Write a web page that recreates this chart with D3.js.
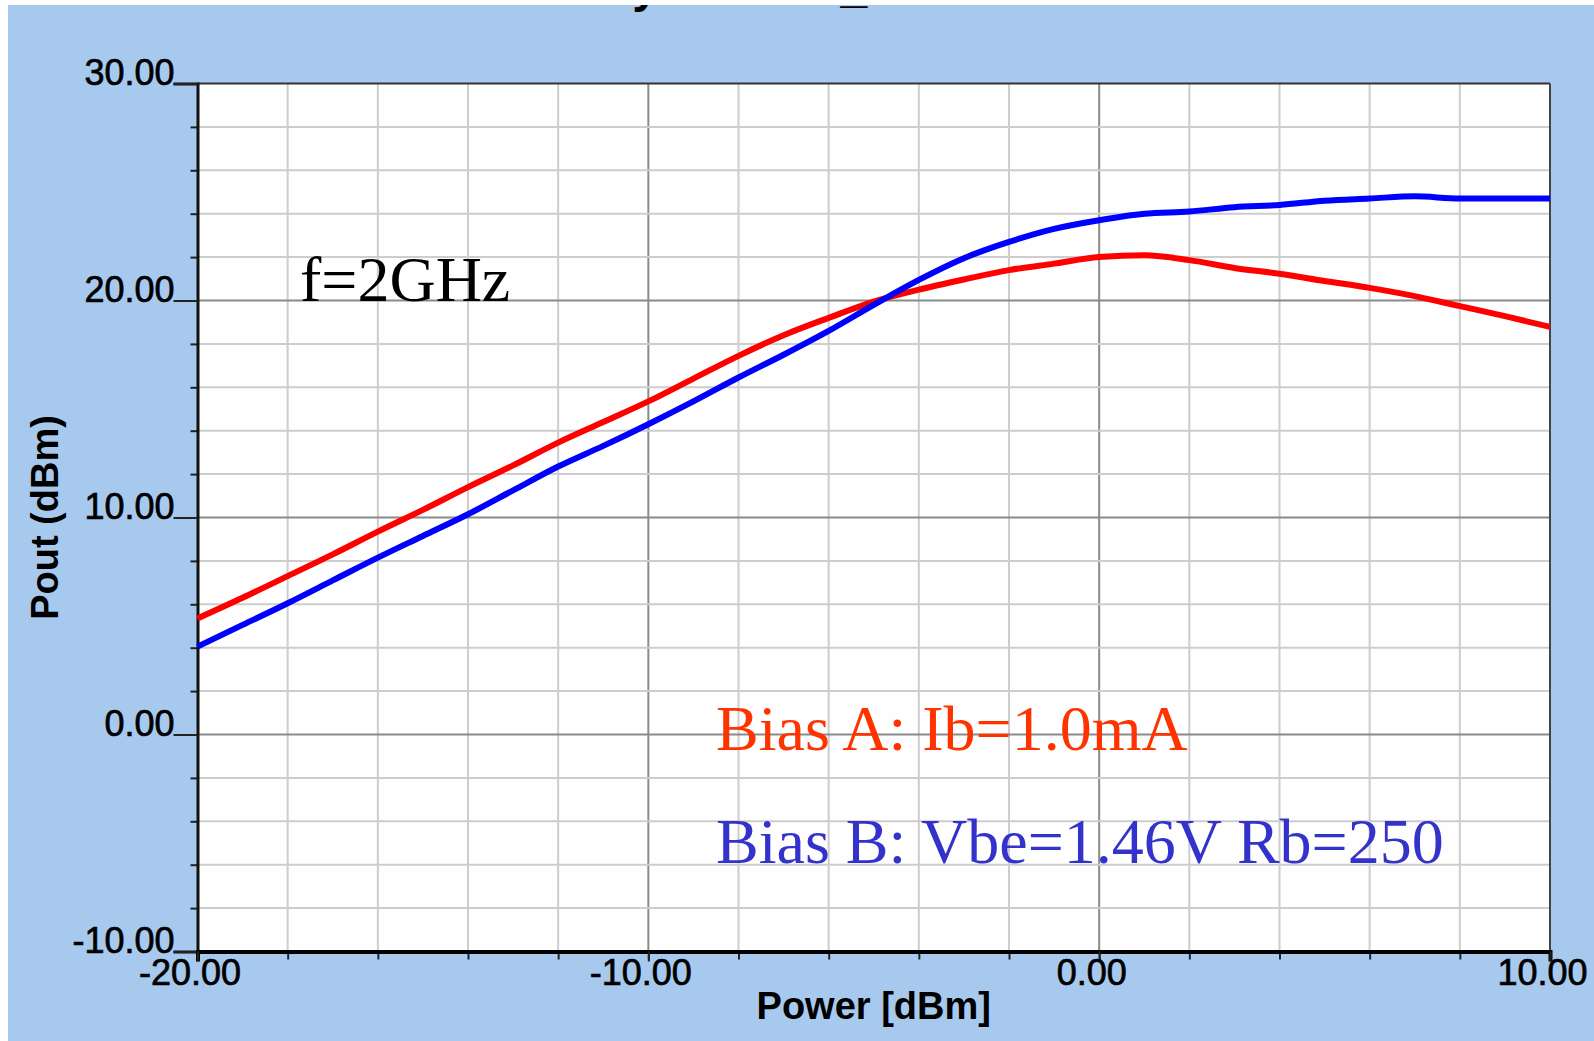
<!DOCTYPE html>
<html>
<head>
<meta charset="utf-8">
<script src="https://cdn.jsdelivr.net/npm/d3@7"></script>
<style>
  html, body { margin: 0; padding: 0; background: #ffffff; }
  svg { display: block; }
</style>
</head>
<body>
<svg id="chart" width="1594" height="1041"></svg>
<script>
// ---- data ----
const powerIn = [-20,-19,-18,-17,-16,-15,-14,-13,-12,-11,-10,-9,-8,-7,-6,-5,-4,-3,-2,-1,0,1,2,3,4,5,6,7,8,9,10];
const biasA = [5.35,6.3,7.3,8.3,9.35,10.35,11.4,12.4,13.45,14.4,15.35,16.4,17.45,18.4,19.2,19.95,20.5,20.97,21.4,21.7,22.0,22.08,21.86,21.5,21.23,20.9,20.58,20.2,19.74,19.28,18.78];
const biasB = [4.05,5.05,6.05,7.1,8.15,9.15,10.15,11.25,12.35,13.3,14.3,15.35,16.45,17.5,18.6,19.8,20.95,21.95,22.7,23.3,23.7,24.0,24.1,24.3,24.4,24.6,24.7,24.8,24.7,24.7,24.7];
const xTickLabels = [-20, -10, 0, 10];
const yTickLabels = [-10, 0, 10, 20, 30];
const xGrid = [-18,-16,-14,-12,-10,-8,-6,-4,-2,0,2,4,6,8];
const yGrid = [-8,-6,-4,-2,0,2,4,6,8,10,12,14,16,18,20,22,24,26,28];
const xMajor = [-10, 0];
const yMajor = [0, 10, 20];
const seriesNames = ["Bias A: Ib=1.0mA", "Bias B: Vbe=1.46V Rb=250"];
const annotation = "f=2GHz";
const xTitle = "Power [dBm]";
const yTitle = "Pout (dBm)";
const chartTitle = "Linearity vs Bias_Mode";

// ---- layout ----
const W = 1594, H = 1041;
const L = 197.5, R = 1550, T = 83.5, B = 951.5;
const svg = d3.select("#chart");

const x = d3.scaleLinear().domain([-20, 10]).range([L, R]);
const y = d3.scaleLinear().domain([-10, 30]).range([B, T]);
const fmt = d => d3.format(".2f")(d).replace("\u2212", "-");

// background
svg.append("rect").attr("x", 0).attr("y", 0).attr("width", W).attr("height", H).attr("fill", "#A7C9EE");

// partially visible title (cut off at the top in the original)
svg.append("text").attr("x", 459).attr("y", 2)
  .attr("font-family", "'Liberation Sans', Arial, sans-serif").attr("font-weight", "bold")
  .attr("font-size", 48).attr("fill", "#000").text(chartTitle);

// white page margins
svg.append("rect").attr("x", 0).attr("y", 0).attr("width", W).attr("height", 5).attr("fill", "#fff");
svg.append("rect").attr("x", 0).attr("y", 0).attr("width", 8).attr("height", H).attr("fill", "#fff");

// plot area
svg.append("rect").attr("x", L).attr("y", T).attr("width", R - L).attr("height", B - T).attr("fill", "#FEFEFE");

// grid
const grid = svg.append("g");
grid.selectAll("line.vx").data(xGrid).join("line")
  .attr("x1", d => x(d)).attr("x2", d => x(d)).attr("y1", T).attr("y2", B)
  .attr("stroke", d => xMajor.includes(d) ? "#8A8A8A" : "#CDCDCD").attr("stroke-width", 2);
grid.selectAll("line.hy").data(yGrid).join("line")
  .attr("y1", d => y(d)).attr("y2", d => y(d)).attr("x1", L).attr("x2", R)
  .attr("stroke", d => yMajor.includes(d) ? "#8A8A8A" : "#CDCDCD").attr("stroke-width", 2);

// border lines (top and right)
svg.append("line").attr("x1", L).attr("x2", R).attr("y1", T).attr("y2", T).attr("stroke", "#333").attr("stroke-width", 2);
svg.append("line").attr("x1", R).attr("x2", R).attr("y1", T).attr("y2", B).attr("stroke", "#444").attr("stroke-width", 2);

const fontSans = "'Liberation Sans', Arial, sans-serif";

// y axis: minor ticks
const yMinor = svg.append("g").attr("transform", `translate(${L},0)`)
  .call(d3.axisLeft(y).tickValues(yGrid.concat([-10,30])).tickSize(7).tickFormat(""));
yMinor.select(".domain").remove();
yMinor.selectAll(".tick line").attr("stroke", "#222").attr("stroke-width", 2);

// y axis: labelled ticks
const yAx = svg.append("g").attr("transform", `translate(${L},0)`)
  .call(d3.axisLeft(y).tickValues(yTickLabels).tickSize(24).tickPadding(0).tickFormat(fmt));
yAx.select(".domain").attr("stroke", "#111").attr("stroke-width", 3);
yAx.selectAll(".tick line").attr("stroke", "#222").attr("stroke-width", 2);
yAx.selectAll(".tick text").attr("font-family", fontSans).attr("font-size", 36)
  .attr("fill", "#000").attr("stroke", "#000").attr("stroke-width", 0.7)
  .attr("x", -23).attr("dy", "0.04em");

// x axis: minor ticks
const xMinorAx = svg.append("g").attr("transform", `translate(0,${B})`)
  .call(d3.axisBottom(x).tickValues(xGrid).tickSize(8).tickFormat(""));
xMinorAx.select(".domain").remove();
xMinorAx.selectAll(".tick line").attr("stroke", "#222").attr("stroke-width", 2);

// x axis: labelled ticks
const xAx = svg.append("g").attr("transform", `translate(0,${B})`)
  .call(d3.axisBottom(x).tickValues(xTickLabels).tickSize(10).tickFormat(fmt));
xAx.select(".domain").attr("stroke", "#000").attr("stroke-width", 4);
xAx.selectAll(".tick line").attr("stroke", "#222").attr("stroke-width", 2);
xAx.selectAll(".tick text").attr("font-family", fontSans).attr("font-size", 36)
  .attr("fill", "#000").attr("stroke", "#000").attr("stroke-width", 0.7)
  .attr("y", 33.5).attr("dy", 0).attr("dx", -8);

// axis titles
svg.append("text").attr("x", (L + R) / 2).attr("y", 1019).attr("text-anchor", "middle")
  .attr("font-family", fontSans).attr("font-weight", "bold").attr("font-size", 38).attr("fill", "#000")
  .text(xTitle);
svg.append("text").attr("transform", `translate(58,${(T + B) / 2}) rotate(-90)`).attr("text-anchor", "middle")
  .attr("font-family", fontSans).attr("font-weight", "bold").attr("font-size", 38).attr("fill", "#000")
  .text(yTitle);

// curves
const line = d3.line().x(d => x(d[0])).y(d => y(d[1])).curve(d3.curveMonotoneX);
const plot = svg.append("g");
plot.append("path").datum(powerIn.map((p, i) => [p, biasA[i]]))
  .attr("d", line).attr("fill", "none").attr("stroke", "#FF0000").attr("stroke-width", 6)
  .attr("stroke-linejoin", "round");
plot.append("path").datum(powerIn.map((p, i) => [p, biasB[i]]))
  .attr("d", line).attr("fill", "none").attr("stroke", "#0000FF").attr("stroke-width", 6)
  .attr("stroke-linejoin", "round");

// annotations
const fontSerif = "'Liberation Serif', 'Times New Roman', serif";
svg.append("text").attr("x", 300).attr("y", 301).attr("font-family", fontSerif).attr("font-size", 64)
  .attr("fill", "#000").text(annotation);
svg.append("text").attr("x", 716).attr("y", 750).attr("font-family", fontSerif).attr("font-size", 64)
  .attr("fill", "#FF3300").text(seriesNames[0]);
svg.append("text").attr("x", 716).attr("y", 863).attr("font-family", fontSerif).attr("font-size", 64)
  .attr("fill", "#3333CC").text(seriesNames[1]);
</script>
</body>
</html>
